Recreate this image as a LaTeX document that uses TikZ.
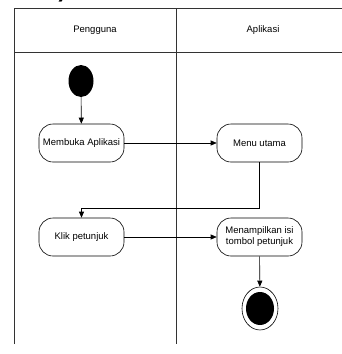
\documentclass[tikz,border=0pt]{standalone}
\usepackage{fontspec}
\setmainfont{Liberation Sans}
\usetikzlibrary{arrows.meta,shapes.geometric}
\begin{document}
\begin{tikzpicture}[x=1pt,y=-1pt,
  lane/.style={draw=black!80,line width=0.9pt},
  action/.style={draw,rounded corners=14pt,minimum width=85pt,minimum height=38pt,
    align=center,inner sep=1pt,font=\fontsize{9.5}{11}\selectfont,line width=0.6pt},
  flow/.style={draw,line width=0.6pt,-{Triangle[length=6pt,width=5pt]}},
  lanelabel/.style={font=\fontsize{9.5}{11}\selectfont}]
\useasboundingbox (0,0) rectangle (342,354);
\begin{scope}
\clip (0,0) rectangle (342,354);
% caption fragment cut by the page edge
\node[anchor=base west,inner sep=0pt,font=\bfseries\fontsize{22}{24}\selectfont] (cap) at (-4,-3) {abel 3).};
% swimlane frame
\draw[lane] (14,344) -- (14,8) -- (345,8);
\draw[lane] (14,52) -- (345,52);
\draw[lane] (176,8) -- (176,344);
\end{scope}
\node[lanelabel] (l1) at (95,30) {Pengguna};
\node[lanelabel] (l2) at (263,30) {Aplikasi};
% start state
\node[ellipse,fill=black,minimum width=25pt,minimum height=32pt,inner sep=0pt] (start) at (81,81) {};
% actions
\node[action] (buka) at (81.5,143) {Membuka Aplikasi};
\node[action] (menu) at (259.5,143) {Menu utama};
\node[action] (klik) at (81.5,237) {Klik petunjuk};
\node[action] (tampil) at (259.5,237) {Menampilkan isi\\tombol petunjuk};
% end state
\node[ellipse,draw,line width=0.6pt,minimum width=36pt,minimum height=43pt,inner sep=0pt] (end) at (260,308.5) {};
\node[ellipse,fill=black,minimum width=28pt,minimum height=33pt,inner sep=0pt] (endin) at (end.center) {};
% control flow
\draw[flow] (start) -- (buka);
\draw[flow] (buka) -- (menu);
\draw[flow] (menu.south) |- (81.5,208) -- (klik.north);
\draw[flow] (klik) -- (tampil);
\draw[flow] (tampil) -- (end);
\end{tikzpicture}
\end{document}
